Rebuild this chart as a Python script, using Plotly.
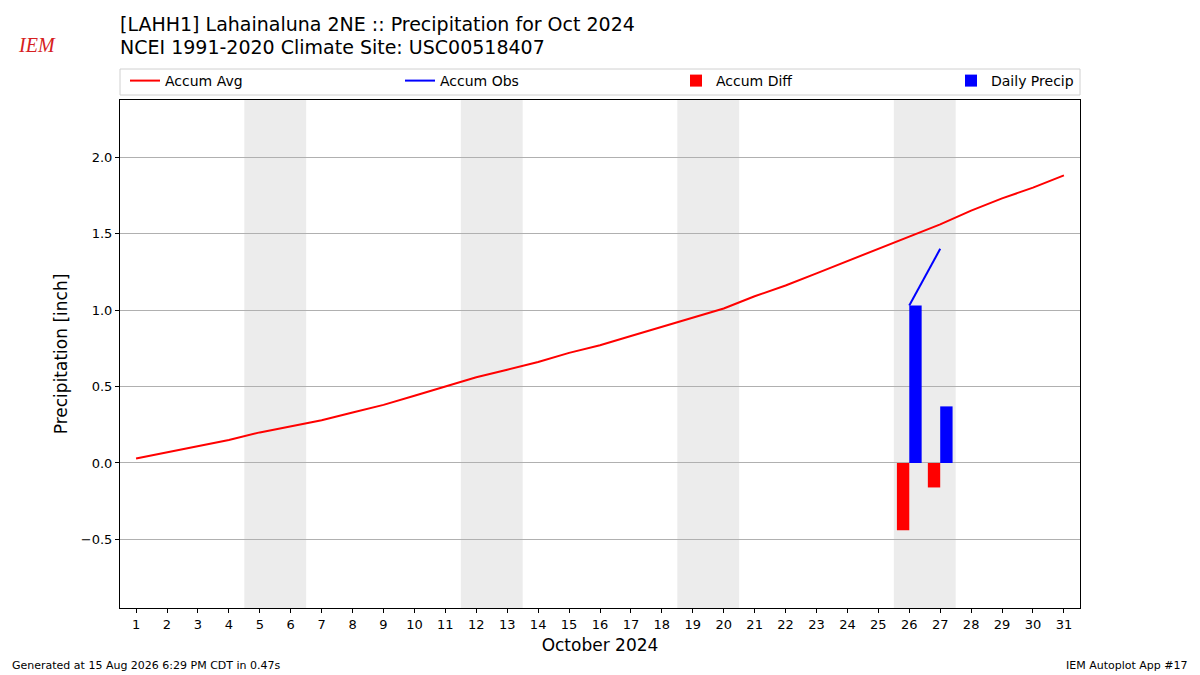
import datetime
import plotly.graph_objects as go

# ── Data ────────────────────────────────────────────────────────────────
days = list(range(1, 32))
accum_avg = [0.03, 0.07, 0.11, 0.15, 0.20, 0.24, 0.28, 0.33, 0.38, 0.44,
             0.50, 0.56, 0.61, 0.66, 0.72, 0.77, 0.83, 0.89, 0.95, 1.01,
             1.09, 1.16, 1.24, 1.32, 1.40, 1.48, 1.56, 1.65, 1.73, 1.80, 1.88]
obs_days = [26, 27]
accum_obs = [1.03, 1.40]
accum_diff = [-0.44, -0.16]
daily_precip = [1.03, 0.37]
year, month = 2024, 10

title_lines = ["[LAHH1] Lahainaluna 2NE :: Precipitation for Oct 2024",
               "NCEI 1991-2020 Climate Site: USC00518407"]
footer_left = "Generated at 15 Aug 2026 6:29 PM CDT in 0.47s"
footer_right = "IEM Autoplot App #17"

FONT = "DejaVu Sans"

# page has an 8px body margin, so the figure is sized/placed to compensate
W, H = 1192, 667
ML, MR, MT, MB = 112, 120, 92, 67
PW, PH = W - ML - MR, H - MT - MB

fig = go.Figure()

fig.add_trace(go.Scatter(x=days, y=accum_avg, mode="lines", name="Accum Avg",
                         line=dict(color="red", width=2), legend="legend"))
fig.add_trace(go.Scatter(x=obs_days, y=accum_obs, mode="lines", name="Accum Obs",
                         line=dict(color="blue", width=2), legend="legend2"))
fig.add_trace(go.Bar(x=obs_days, y=accum_diff, name="Accum Diff", marker_color="red",
                     marker_line_width=0, width=0.4, offset=-0.4, legend="legend3"))
fig.add_trace(go.Bar(x=obs_days, y=daily_precip, name="Daily Precip", marker_color="blue",
                     marker_line_width=0, width=0.4, offset=0, legend="legend4"))

# weekend shading
for d in days:
    if datetime.date(year, month, d).weekday() == 5:
        fig.add_vrect(x0=d - 0.5, x1=d + 1.5, fillcolor="#ececec", line_width=0,
                      layer="below")

# legend frame (matplotlib style expanded legend across the top)
fig.add_shape(type="rect", xref="paper", yref="paper", x0=0, x1=1,
              y0=1 + 5 / PH, y1=1 + 31 / PH, line=dict(color="#d0d0d0", width=1),
              fillcolor="rgba(0,0,0,0)")

leg_common = dict(orientation="h", xanchor="left", y=1 + 19 / PH, yanchor="middle",
                  bgcolor="rgba(0,0,0,0)", borderwidth=0, font=dict(size=14))
leg_text_px = [166, 441, 717, 992]
leg_x = [(px - 8 - 41 - ML) / PW for px in leg_text_px]

fig.update_layout(
    width=W, height=H,
    margin=dict(l=ML, r=MR, t=MT, b=MB),
    plot_bgcolor="white", paper_bgcolor="white",
    font=dict(family=FONT, size=13, color="black"),
    barmode="overlay",
    showlegend=True,
    legend=dict(x=leg_x[0], **leg_common),
    legend2=dict(x=leg_x[1], **leg_common),
    legend3=dict(x=leg_x[2], **leg_common),
    legend4=dict(x=leg_x[3], **leg_common),
)

# titles
fig.add_annotation(text=title_lines[0], x=0, xref="paper", xanchor="left", xshift=-2,
                   y=1.0, yref="paper", yanchor="middle", yshift=76,
                   showarrow=False, font=dict(size=19))
fig.add_annotation(text=title_lines[1], x=0, xref="paper", xanchor="left", xshift=-2,
                   y=1.0, yref="paper", yanchor="middle", yshift=53,
                   showarrow=False, font=dict(size=19))
# logo text
fig.add_annotation(text="<i>IEM</i>", x=(37 - 8 - ML) / PW, xref="paper", xanchor="center",
                   y=1.0, yref="paper", yanchor="middle", yshift=55,
                   showarrow=False,
                   font=dict(size=20, color="#d62020", family="Liberation Serif"))
# footers
fig.add_annotation(text=footer_left, x=(12 - 8 - ML) / PW, xref="paper", xanchor="left",
                   xshift=-2, y=0, yref="paper", yanchor="middle", yshift=-57,
                   showarrow=False, font=dict(size=11))
fig.add_annotation(text=footer_right, x=(1188 - 8 - ML) / PW, xref="paper",
                   xanchor="right", xshift=2, y=0, yref="paper", yanchor="middle",
                   yshift=-57, showarrow=False, font=dict(size=11))

fig.update_xaxes(range=[0.48, 31.52], tickmode="array", tickvals=days,
                 ticktext=[str(d) for d in days], ticks="outside", ticklen=4,
                 tickcolor="black", showline=True, linecolor="black", mirror=True,
                 showgrid=False, zeroline=False,
                 title=dict(text="October 2024", font=dict(size=17), standoff=8))
fig.update_yaxes(range=[-0.948, 2.373], tickmode="array",
                 tickvals=[-0.5, 0.0, 0.5, 1.0, 1.5, 2.0],
                 ticktext=["−0.5", "0.0", "0.5", "1.0", "1.5", "2.0"],
                 ticks="outside", ticklen=4, tickcolor="black",
                 showline=True, linecolor="black", mirror=True,
                 showgrid=True, gridcolor="#b0b0b0", gridwidth=1, zeroline=False,
                 title=dict(text="Precipitation [inch]", font=dict(size=17), standoff=8))

fig.write_html("out.html")
